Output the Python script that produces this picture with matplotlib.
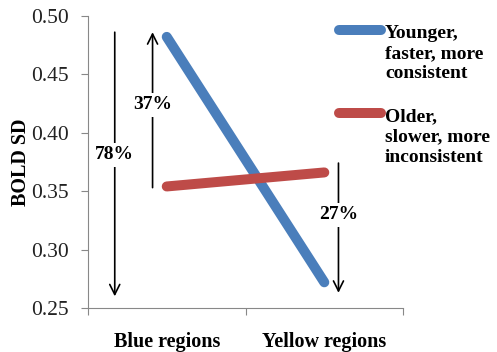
import numpy as np
import matplotlib.pyplot as plt
from matplotlib.lines import Line2D

plt.rcParams['font.family'] = ['Liberation Serif', 'DejaVu Serif']

# data
categories = ['Blue regions', 'Yellow regions']
younger = [0.482, 0.272]
older = [0.354, 0.366]
series_labels = ['Younger,\nfaster, more\nconsistent', 'Older,\nslower, more\ninconsistent']
series_colors = ['#4A7EBB', '#BE4B48']

# percentage arrows: (label, x, y_start, y_end, y_text)
arrow_labels = ['78%', '37%', '27%']
arrow_x = [-0.33, -0.09, 1.09]
arrow_from = [0.486, 0.353, 0.374]
arrow_to = [0.260, 0.486, 0.263]
arrow_text_y = [0.381, 0.424, 0.330]

fig = plt.figure(figsize=(4.97, 3.52), dpi=100)
ax = fig.add_axes([0.177, 0.125, 0.634, 0.830])

x = np.arange(len(categories))
for vals, col in zip([younger, older], series_colors):
    ax.plot(x, vals, color=col, lw=7.2, solid_capstyle='round', zorder=3)

for lab, ax_x, y0, y1, yt in zip(arrow_labels, arrow_x, arrow_from, arrow_to, arrow_text_y):
    ax.annotate('', xy=(ax_x, y1), xytext=(ax_x, y0),
                arrowprops=dict(arrowstyle='->', color='black', lw=1.2,
                                mutation_scale=18, shrinkA=0, shrinkB=0), zorder=2)
    ax.text(ax_x, yt, lab, ha='center', va='center', fontsize=14, fontweight='bold',
            bbox=dict(facecolor='white', edgecolor='none', pad=2.5), zorder=4)

ax.set_xlim(-0.5, 1.5)
ax.set_ylim(0.25, 0.50)
ax.set_yticks([0.25, 0.30, 0.35, 0.40, 0.45, 0.50])
ax.set_yticklabels(['%.2f' % v for v in ax.get_yticks()], fontsize=15.5)
ax.set_xticks([-0.5, 0.5, 1.5])
ax.set_xticklabels([])
ax.set_xticks(x, minor=True)
ax.set_xticklabels(categories, minor=True, fontsize=14.5, fontweight='bold')
ax.tick_params(axis='x', which='minor', length=0, pad=17)
ax.tick_params(axis='x', which='major', length=5, color='#888888', direction='out')
ax.tick_params(axis='y', length=5, color='#888888', direction='out', labelcolor='#222222', pad=9)
for s in ['top', 'right']:
    ax.spines[s].set_visible(False)
for s in ['left', 'bottom']:
    ax.spines[s].set_color('#888888')
ax.set_ylabel('BOLD SD', fontsize=14.5, fontweight='bold', labelpad=0)

# legend drawn by hand so the sample sits on the first line
legend_top = [1 - 25 / 352, 1 - 108 / 352]
for lab, col, ly in zip(series_labels, series_colors, legend_top):
    fig.add_artist(Line2D([339 / 497, 381 / 497], [ly - 5 / 352, ly - 5 / 352],
                          color=col, lw=7.2, solid_capstyle='round'))
    fig.text(385 / 497, ly, lab, fontsize=14, fontweight='bold', va='top',
             ha='left', linespacing=1.25)

plt.savefig('out.png', dpi=100)
